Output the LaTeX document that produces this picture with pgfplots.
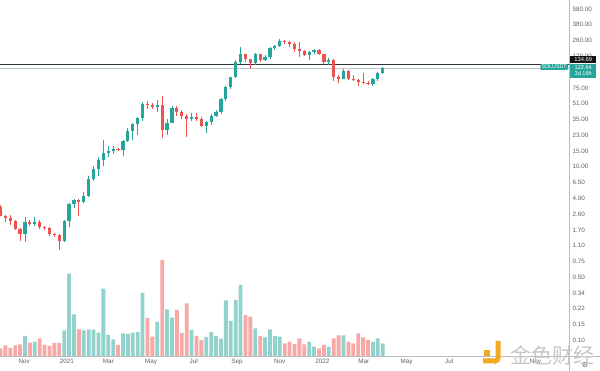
\documentclass[border=0pt]{standalone}
\usepackage{pgfplots}
\usepackage{pgfplotstable}
\pgfplotsset{compat=1.18}
\usepackage{fontspec}
\setmainfont{Liberation Sans}
\newfontfamily\cjk{Noto Sans CJK SC}
\newfontfamily\dejavu{DejaVu Sans}

\definecolor{upc}{HTML}{26A69A}
\definecolor{dnc}{HTML}{EF5350}
\definecolor{volup}{RGB}{146,210,204}
\definecolor{voldn}{RGB}{247,169,168}
\definecolor{axcol}{RGB}{95,98,108}
\definecolor{sepl}{RGB}{185,188,195}
\definecolor{hline}{RGB}{50,52,58}
\definecolor{pline}{RGB}{180,204,210}
\definecolor{wmorange}{RGB}{242,170,30}

% weekly candles, SOLUSDT (i = week index, 0 = 28 Sep 2020)
\pgfplotstableread{
i O H L C
0 3.24 3.45 2.55 2.60
1 2.60 2.64 2.19 2.46
2 2.46 2.62 2.04 2.26
3 2.26 2.30 1.78 1.82
4 1.82 1.87 1.34 1.62
5 1.62 2.51 1.32 2.23
6 2.23 2.35 1.98 2.09
7 2.09 2.51 2.00 2.19
8 2.19 2.35 1.82 1.93
9 1.93 2.00 1.80 1.88
10 1.88 1.92 1.54 1.61
11 1.61 1.66 1.50 1.57
12 1.57 1.62 1.07 1.34
13 1.34 2.31 1.30 2.26
14 2.26 3.60 1.91 3.50
15 3.50 4.02 3.20 3.92
16 3.92 4.05 2.60 3.75
17 3.75 4.88 3.60 4.33
18 4.33 7.42 4.20 6.79
19 6.79 9.43 6.44 8.81
20 8.81 12.1 7.40 11.16
21 11.16 18.8 9.60 13.3
22 13.3 15.9 12.1 14.1
23 14.1 15.9 13.0 14.88
24 14.88 15.3 14.0 14.6
25 14.6 18.8 12.4 18.3
26 18.3 25.5 18.0 24.0
27 24.0 29.2 18.8 28.4
28 28.4 34.5 21.4 33.2
29 33.2 50.5 30.6 48.3
30 48.3 52.5 42.0 47.0
31 47.0 50.0 42.0 45.0
32 45.0 53.6 39.0 47.0
33 47.0 59.4 19.6 24.5
34 24.5 33.0 21.4 29.6
35 29.6 45.4 29.0 43.2
36 43.2 46.0 35.5 39.2
37 39.2 41.0 32.6 35.6
38 35.6 37.0 20.5 32.4
39 32.4 38.0 31.0 34.6
40 34.6 38.0 31.0 32.6
41 32.6 34.0 26.5 27.4
42 27.4 31.2 22.6 29.9
43 29.9 37.0 28.0 35.4
44 35.4 41.0 34.0 38.9
45 38.9 56.0 37.0 54.6
46 54.6 78.0 52.0 74.8
47 74.8 99.0 72.0 97.1
48 97.1 152 95.0 146
49 146 216 136 177
50 177 181 146 155
51 155 158 122 140
52 140 183 133 177
53 177 179 146 153
54 153 172 149 164
55 164 214 158 210
56 210 226 200 220
57 220 263 212 251
58 251 258 233 244
59 244 250 216 232
60 232 246 189 204
61 204 242 165 191
62 191 200 170 176
63 176 195 153 188
64 188 205 180 197
65 197 204 172 177
66 177 180 138 145
67 145 160 133 152
68 152 155 88 99
69 99 104 84 94
70 94 120 92 116
71 116 119 90 93
72 93 103 87 90
73 90 92 78 86
74 86 108 81 84
75 84 89 79 81
76 81 95 78 92
77 92 112 88 110
78 110 127 106 122.64
}\candles

\newcommand\tickfont{\fontsize{6.3}{7}\selectfont}

\begin{document}
\begin{tikzpicture}
\useasboundingbox (0pt,0pt) rectangle (600pt,371pt);
\fill[white] (0pt,0pt) rectangle (600pt,371pt);

% ---------- volume (overlay, linear) ----------
\begin{axis}[
  at={(0pt,15pt)}, anchor=south west, scale only axis,
  width=569pt, height=356pt,
  xmin=-0.1, xmax=116.02, ymin=0, ymax=356,
  hide axis,
]
\addplot[ybar, bar width=3.8pt, bar shift=0pt, fill=volup, draw=none] coordinates {
(5,20) (7,14.3) (13,25.7) (14,82.3) (15,41.7) (17,25.7) (18,26.7) (19,26.3) (20,23.3)
(21,67.3) (22,21) (23,16.7) (25,22.7) (26,22) (27,23.3) (28,24) (29,63) (32,34)
(34,46.7) (35,38.3) (39,26) (42,19) (43,24) (44,20) (45,17.3) (46,55.7) (47,35)
(48,56) (49,71) (52,27.7) (54,18.7) (55,26.7) (56,20) (57,19.3) (63,14) (64,9.3)
(67,9.3) (70,20.7) (76,14) (77,17.7) (78,12.7)};
\addplot[ybar, bar width=3.8pt, bar shift=0pt, fill=voldn, draw=none] coordinates {
(0,7.7) (1,10.7) (2,8) (3,10.7) (4,11.7) (6,13.3) (8,17.7) (9,11) (10,10.3) (11,13)
(12,13) (16,26.7) (24,11) (30,38) (31,19.3) (33,96) (36,46) (37,23) (38,52.7) (40,20)
(41,16) (50,41) (51,39.3) (53,20) (58,12.7) (59,14.3) (60,12) (61,17.7) (62,11.7)
(65,7.7) (66,11) (68,17.7) (69,20.7) (71,14) (72,12.7) (73,22.7) (74,18.7) (75,16)};
\end{axis}

% ---------- price (log) ----------
\begin{axis}[
  at={(0pt,15pt)}, anchor=south west, scale only axis,
  width=569pt, height=356pt,
  xmin=-0.1, xmax=116.02,
  ymode=log, ymin=0.0661, ymax=734,
  axis line style={draw=none},
  tick style={draw=none},
  major tick length=0pt, minor tick length=0pt,
  xtick={4.857,13.571,22,30.714,39.429,48.286,57,65.714,74.143,82.857,91.571,100.429,109.143},
  xticklabels={Nov,2021,Mar,May,Jul,Sep,Nov,2022,Mar,May,Jul,Sep,Nov},
  ytick={580,383.8,254.0,168.1,73.61,48.71,32.24,21.33,14.12,9.342,6.182,4.091,2.707,1.792,1.186,0.7846,0.5192,0.3436,0.2274,0.1505,0.09958},
  yticklabels={580.00,380.00,260.00,170.00,75.00,51.00,35.00,23.00,15.00,10.00,6.50,4.00,2.60,1.70,1.10,0.75,0.50,0.34,0.22,0.15,0.10},
  yticklabel pos=right,
  xticklabel style={anchor=north, inner sep=0pt, yshift=-3pt, font=\tickfont, text=axcol},
  yticklabel style={anchor=west, inner sep=0pt, xshift=3.5pt, font=\tickfont, text=axcol},
]
% current price line and horizontal level
\addplot[pline, line width=0.7pt, forget plot] coordinates {(-0.1,122.64) (116.02,122.64)};
\addplot[hline, line width=1.4pt, forget plot] coordinates {(-0.1,134.69) (116.02,134.69)};

\pgfplotstablegetrowsof{\candles}
\pgfmathtruncatemacro{\lastrow}{\pgfplotsretval-1}
\pgfplotsforeachungrouped \rr in {0,...,\lastrow}{%
  \pgfplotstablegetelem{\rr}{i}\of\candles \let\ci\pgfplotsretval
  \pgfplotstablegetelem{\rr}{O}\of\candles \let\cO\pgfplotsretval
  \pgfplotstablegetelem{\rr}{H}\of\candles \let\cH\pgfplotsretval
  \pgfplotstablegetelem{\rr}{L}\of\candles \let\cL\pgfplotsretval
  \pgfplotstablegetelem{\rr}{C}\of\candles \let\cC\pgfplotsretval
  \pgfmathtruncatemacro{\isup}{(\cC>=\cO)?1:0}%
  \ifnum\isup=1 \def\ccol{upc}\else\def\ccol{dnc}\fi
  \edef\tmp{%
    \noexpand\addplot[draw=\ccol, line width=0.9pt, forget plot] coordinates {(\ci,\cL) (\ci,\cH)};%
    \noexpand\addplot[draw=\ccol, line width=3.2pt, line cap=butt, forget plot] coordinates {(\ci,\cO) (\ci,\cC)};%
  }\tmp
}
\end{axis}

% ---------- pane separators ----------
\draw[sepl, line width=0.8pt] (0pt,15pt) -- (600pt,15pt);
\draw[sepl, line width=0.8pt] (569.5pt,0pt) -- (569.5pt,371pt);

% ---------- price-scale tags ----------
\node[fill=black!92, text=white, font=\fontsize{5.8}{6}\selectfont, anchor=south west,
      minimum width=26pt, minimum height=7pt, inner sep=0pt] at (570pt,307.5pt) {134.69};
\node[fill=upc, text=white, font=\fontsize{5.6}{6.6}\selectfont, anchor=north west, align=center,
      minimum width=26pt, minimum height=14pt, inner sep=0.5pt] at (570pt,307.5pt) {122.64\\3d 16h};
\node[fill=upc, text=white, font=\fontsize{5.3}{5.5}\selectfont, anchor=east, inner xsep=1.2pt,
      inner ysep=1.1pt, rounded corners=0.8pt] at (568pt,304pt) {SOLUSDT};

% ---------- gear and watermark ----------
\node[font=\dejavu\fontsize{7.5}{7.5}\selectfont, text=axcol] at (585pt,6.5pt) {⚙};
\fill[wmorange] (484pt,15pt) rectangle (490pt,21pt);
\draw[wmorange, line width=5pt, rounded corners=3pt] (498pt,30pt) -- (498pt,10pt) -- (483pt,10pt);
\node[anchor=west, font=\cjk\fontsize{21}{21}\selectfont, text=black!22, inner sep=0pt] at (510pt,16pt) {金色财经};
\end{tikzpicture}
\end{document}
